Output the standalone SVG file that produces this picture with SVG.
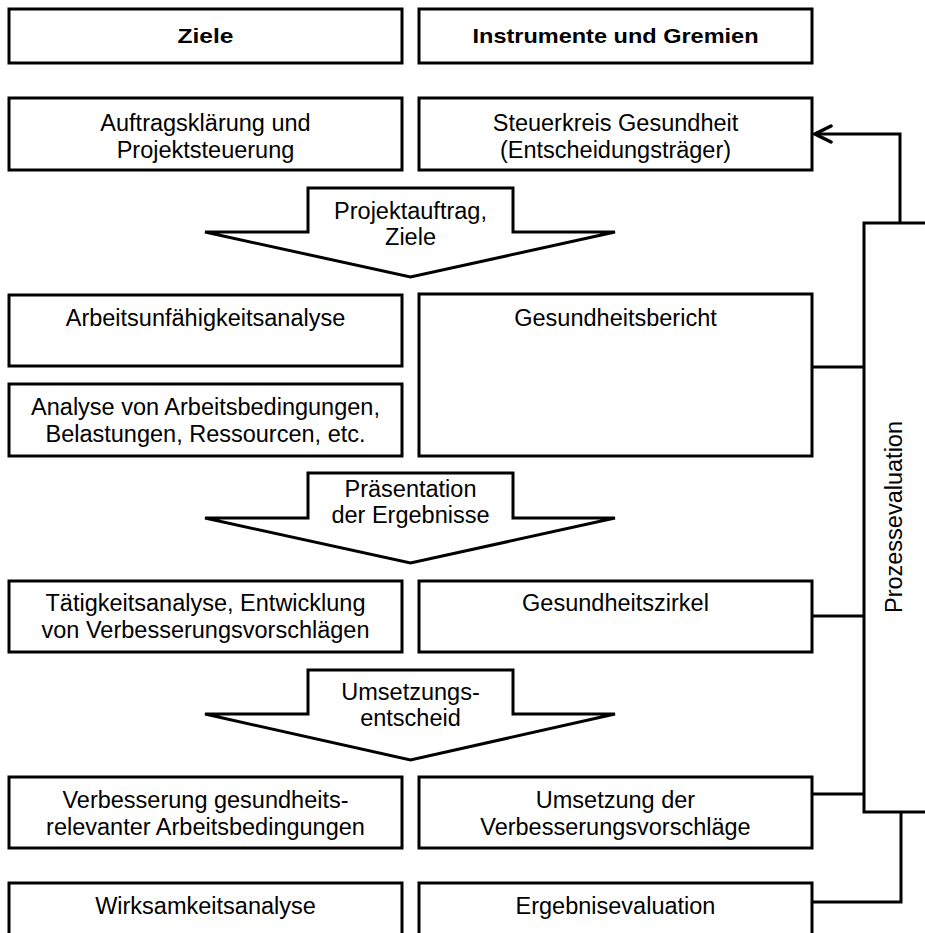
<svg xmlns="http://www.w3.org/2000/svg" width="925" height="933" viewBox="0 0 925 933">
<style>
.box{fill:#fff;stroke:#000;stroke-width:3}
.arr{fill:#fff;stroke:#000;stroke-width:3;stroke-linejoin:miter}
.t{font-family:"Liberation Sans",Arial,sans-serif;font-size:23.5px;fill:#000;text-anchor:middle}
.h{font-family:"Liberation Sans",Arial,sans-serif;font-size:21px;font-weight:bold;fill:#000;text-anchor:middle}
.c{fill:none;stroke:#000;stroke-width:3}
</style>
<defs>
<marker id="chev" markerUnits="userSpaceOnUse" viewBox="-20 -11 22 22" refX="0" refY="0" markerWidth="22" markerHeight="22" orient="auto">
<path d="M-16,-8 L0,0 L-16,8" fill="none" stroke="#000" stroke-width="3.5" stroke-linecap="round"/>
</marker>
</defs>
<rect width="925" height="933" fill="#fff"/>
<g id="header-ziele"><rect class="box" x="9" y="9" width="393" height="54"/><text class="h" x="205.5" y="43" textLength="56" lengthAdjust="spacingAndGlyphs">Ziele</text></g>
<g id="header-instrumente"><rect class="box" x="419" y="9" width="393" height="54"/><text class="h" x="615.5" y="43" textLength="286" lengthAdjust="spacingAndGlyphs">Instrumente und Gremien</text></g>
<g id="auftrag"><rect class="box" x="9" y="98" width="393" height="72"/><text class="t" x="205.5" y="131">Auftragsklärung und</text><text class="t" x="205.5" y="158">Projektsteuerung</text></g>
<g id="steuerkreis"><rect class="box" x="419" y="98" width="393" height="72"/><text class="t" x="615.5" y="131">Steuerkreis Gesundheit</text><text class="t" x="615.5" y="158">(Entscheidungsträger)</text></g>
<g id="pfeil1"><polygon class="arr" points="308,188 513,188 513,232 615,232 410.5,277 205,232 308,232"/><text class="t" x="410.5" y="219">Projektauftrag,</text><text class="t" x="410.5" y="245">Ziele</text></g>
<g id="au-analyse"><rect class="box" x="9" y="295" width="393" height="71"/><text class="t" x="205.5" y="326">Arbeitsunfähigkeitsanalyse</text></g>
<g id="analyse"><rect class="box" x="9" y="384" width="393" height="72"/><text class="t" x="205.5" y="415">Analyse von Arbeitsbedingungen,</text><text class="t" x="205.5" y="442">Belastungen, Ressourcen, etc.</text></g>
<g id="bericht"><rect class="box" x="419" y="294" width="393" height="162"/><text class="t" x="615.5" y="326">Gesundheitsbericht</text></g>
<g id="pfeil2"><polygon class="arr" points="308,473 513,473 513,518 615,518 410.5,563 205,518 308,518"/><text class="t" x="410.5" y="497">Präsentation</text><text class="t" x="410.5" y="523">der Ergebnisse</text></g>
<g id="taetigkeit"><rect class="box" x="9" y="581" width="393" height="71"/><text class="t" x="205.5" y="611">Tätigkeitsanalyse, Entwicklung</text><text class="t" x="205.5" y="638">von Verbesserungsvorschlägen</text></g>
<g id="zirkel"><rect class="box" x="419" y="581" width="393" height="71"/><text class="t" x="615.5" y="611">Gesundheitszirkel</text></g>
<g id="pfeil3"><polygon class="arr" points="308,670 513,670 513,714 615,714 410.5,760 205,714 308,714"/><text class="t" x="410.5" y="700">Umsetzungs-</text><text class="t" x="410.5" y="726">entscheid</text></g>
<g id="verbesserung"><rect class="box" x="9" y="777" width="393" height="71"/><text class="t" x="205.5" y="808">Verbesserung gesundheits-</text><text class="t" x="205.5" y="835">relevanter Arbeitsbedingungen</text></g>
<g id="umsetzung"><rect class="box" x="419" y="777" width="393" height="71"/><text class="t" x="615.5" y="808">Umsetzung der</text><text class="t" x="615.5" y="835">Verbesserungsvorschläge</text></g>
<g id="wirksamkeit"><rect class="box" x="9" y="883" width="393" height="62"/><text class="t" x="205.5" y="914">Wirksamkeitsanalyse</text></g>
<g id="ergebnis"><rect class="box" x="419" y="883" width="393" height="62"/><text class="t" x="615.5" y="914">Ergebnisevaluation</text></g>
<g id="prozess"><rect class="box" x="864" y="223" width="80" height="589"/><text class="t" transform="translate(902,517) rotate(-90)" x="0" y="0">Prozessevaluation</text></g>
<g id="connectors">
<path class="c" d="M900,223 V134 H815" marker-end="url(#chev)"/>
<path class="c" d="M812,367 H864"/>
<path class="c" d="M812,616 H864"/>
<path class="c" d="M812,794 H864"/>
<path class="c" d="M901,812 V902 H812"/>
</g>
</svg>
